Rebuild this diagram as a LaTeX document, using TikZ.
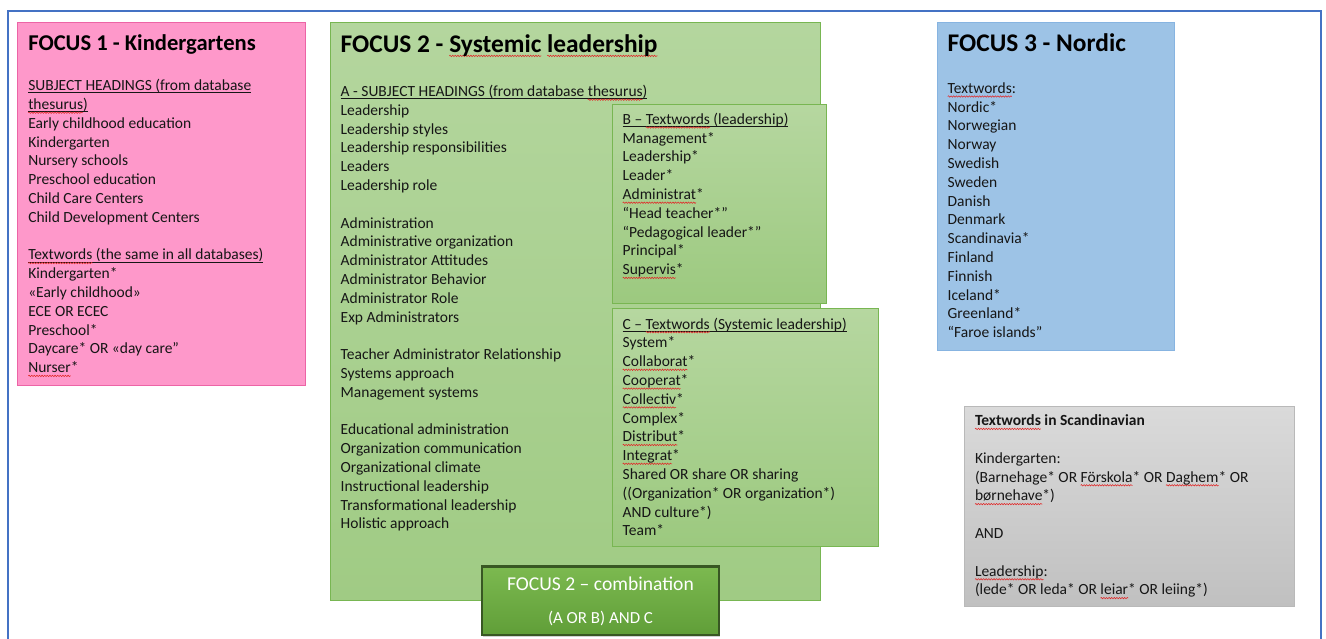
\documentclass[tikz,border=0pt]{standalone}
\usepackage{fontspec}
\setmainfont{Carlito}
\usetikzlibrary{decorations.pathmorphing,shadows}

\definecolor{frameblue}{RGB}{68,114,196}
\definecolor{textcol}{RGB}{22,22,22}
\definecolor{spellred}{RGB}{225,40,40}
\definecolor{pinkfill}{RGB}{254,152,202}
\definecolor{pinkdraw}{RGB}{236,100,166}
\definecolor{greentop}{RGB}{180,214,158}
\definecolor{greenbot}{RGB}{160,203,132}
\definecolor{greendraw}{RGB}{120,182,82}
\definecolor{subtop}{RGB}{182,215,160}
\definecolor{subbot}{RGB}{156,201,127}
\definecolor{combotop}{RGB}{124,185,80}
\definecolor{combobot}{RGB}{96,158,56}
\definecolor{combodraw}{RGB}{56,87,35}
\definecolor{bluefill}{RGB}{157,195,230}
\definecolor{bluedraw}{RGB}{135,180,225}
\definecolor{graytop}{RGB}{218,218,218}
\definecolor{graybot}{RGB}{192,192,192}
\definecolor{graydraw}{RGB}{185,185,185}

\tikzset{
  spellwave/.style={draw=spellred, line width=0.55pt, decorate,
    decoration={snake, amplitude=0.7pt, segment length=2.6pt}},
  ulline/.style={draw=textcol, line width=0.75pt},
  boxnode/.style={anchor=north west, inner sep=0pt, outer sep=0pt},
  pinkbox/.style={boxnode, fill=pinkfill, draw=pinkdraw, line width=1pt},
  greenbox/.style={boxnode, top color=greentop, bottom color=greenbot, draw=greendraw, line width=1pt},
  subbox/.style={boxnode, top color=subtop, bottom color=subbot, draw=greendraw, line width=1pt},
  bluebox/.style={boxnode, fill=bluefill, draw=bluedraw, line width=1pt},
  graybox/.style={boxnode, top color=graytop, bottom color=graybot, draw=graydraw, line width=1pt},
  combobox/.style={boxnode, top color=combotop, bottom color=combobot, draw=combodraw, line width=2.6pt,
    drop shadow={shadow xshift=1.2pt, shadow yshift=-1.6pt, opacity=0.35}},
  txt/.style={anchor=north west, inner sep=0pt, outer sep=0pt, align=left,
    font=\fontsize{15.5}{18.8}\selectfont, text=textcol},
  bigtitle/.style={anchor=base west, inner sep=0pt, outer sep=0pt,
    font=\fontsize{25.4}{30}\selectfont\bfseries, text=black},
  smalltitle/.style={anchor=base west, inner sep=0pt, outer sep=0pt,
    font=\fontsize{22.6}{27}\selectfont\bfseries, text=black},
  combotxt/.style={anchor=base, inner sep=0pt, outer sep=0pt, text=white}
}

\newlength\spwd
\newlength\ulwd
\newcommand\spellw[1]{\settowidth\spwd{#1}\rlap{\tikz[overlay,baseline=0pt]\draw[spellwave] (0pt,-3.2pt) -- (\spwd,-3.2pt);}#1}
\newcommand\uln[1]{\settowidth\ulwd{#1}\rlap{\tikz[overlay,baseline=0pt]\draw[ulline] (0pt,-2pt) -- (\ulwd,-2pt);}#1}
\newcommand\fl{\rule{0pt}{13pt}}

\begin{document}
\begin{tikzpicture}[x=1pt,y=-1pt]
\useasboundingbox (0,0) rectangle (1326,638);
\fill[white] (0,0) rectangle (1326,638);
\clip (0,0) rectangle (1326,638);
\draw[frameblue, line width=2pt] (8,11) rectangle (1321,660);

% FOCUS 1
\node[pinkbox, minimum width=288pt, minimum height=363.4pt] (f1) at (17.3,22.3) {};
\node[smalltitle] (f1title) at (28.3,50) {FOCUS 1 - Kindergartens};
\node[txt] (f1text) at (28.3,77.7) {\fl\uln{SUBJECT HEADINGS (from database}\\
\uln{\spellw{thesurus})}\\
Early childhood education\\
Kindergarten\\
Nursery schools\\
Preschool education\\
Child Care Centers\\
Child Development Centers\\[18.8pt]
\uln{\spellw{Textwords} (the same in all databases)}\\
Kindergarten*\\
«Early childhood»\\
ECE OR ECEC\\
Preschool*\\
Daycare* OR «day care”\\
\spellw{Nurser}*};

% FOCUS 2
\node[greenbox, minimum width=490pt, minimum height=578.4pt] (f2) at (330,22.3) {};
\node[bigtitle] (f2title) at (340.7,52.7) {FOCUS 2 - \spellw{Systemic} \spellw{leadership}};
\node[txt] (f2text) at (340.7,83.5) {\fl\uln{A - SUBJECT HEADINGS (from database \spellw{thesurus})}\\
Leadership\\
Leadership styles\\
Leadership responsibilities\\
Leaders\\
Leadership role\\[18.8pt]
Administration\\
Administrative organization\\
Administrator Attitudes\\
Administrator Behavior\\
Administrator Role\\
Exp Administrators\\[18.8pt]
Teacher Administrator Relationship\\
Systems approach\\
Management systems\\[18.8pt]
Educational administration\\
Organization communication\\
Organizational climate\\
Instructional leadership\\
Transformational leadership\\
Holistic approach};

% B box
\node[subbox, minimum width=214pt, minimum height=199pt] (fb) at (612,104) {};
\node[txt] (fbtext) at (622.7,111.3) {\fl\uln{B – \spellw{Textwords} (leadership)}\\
Management*\\
Leadership*\\
Leader*\\
\spellw{Administrat}*\\
“Head teacher*”\\
“Pedagogical leader*”\\
Principal*\\
\spellw{Supervis}*};

% C box
\node[subbox, minimum width=266pt, minimum height=238pt] (fc) at (612,308) {};
\node[txt] (fctext) at (622.7,316) {\fl\uln{C – \spellw{Textwords} (Systemic leadership)}\\
System*\\
\spellw{Collaborat}*\\
\spellw{Cooperat}*\\
\spellw{Collectiv}*\\
Complex*\\
\spellw{Distribut}*\\
\spellw{Integrat}*\\
Shared OR share OR sharing\\
((Organization* OR organization*)\\
AND culture*)\\
Team*};

% Combination
\node[combobox, minimum width=237pt, minimum height=68.3pt] (combo) at (482,566.7) {};
\node[combotxt, font=\fontsize{19.6}{23}\selectfont] (combo1) at (600.5,590.7) {FOCUS 2 – combination};
\node[combotxt, font=\fontsize{16.9}{20}\selectfont] (combo2) at (600.5,623.3) {(A OR B) AND C};

% FOCUS 3
\node[bluebox, minimum width=237pt, minimum height=327.7pt] (f3) at (937.3,22.3) {};
\node[bigtitle] (f3title) at (947.7,51.7) {FOCUS 3 - Nordic};
\node[txt] (f3text) at (947.7,80.3) {\fl\spellw{Textwords}:\\
Nordic*\\
Norwegian\\
Norway\\
Swedish\\
Sweden\\
Danish\\
Denmark\\
Scandinavia*\\
Finland\\
Finnish\\
Iceland*\\
Greenland*\\
“Faroe islands”};

% Scandinavian
\node[graybox, minimum width=330pt, minimum height=199.3pt] (sc) at (964.3,406.7) {};
\node[txt] (sctext) at (975,412.7) {\fl\textbf{\spellw{Textwords} in Scandinavian}\\[18.8pt]
Kindergarten:\\
(Barnehage* OR \spellw{Förskola}* OR \spellw{Daghem}* OR\\
\spellw{børnehave}*)\\[18.8pt]
AND\\[18.8pt]
\spellw{Leadership}:\\
(lede* OR leda* OR \spellw{leiar}* OR leiing*)};
\end{tikzpicture}
\end{document}
